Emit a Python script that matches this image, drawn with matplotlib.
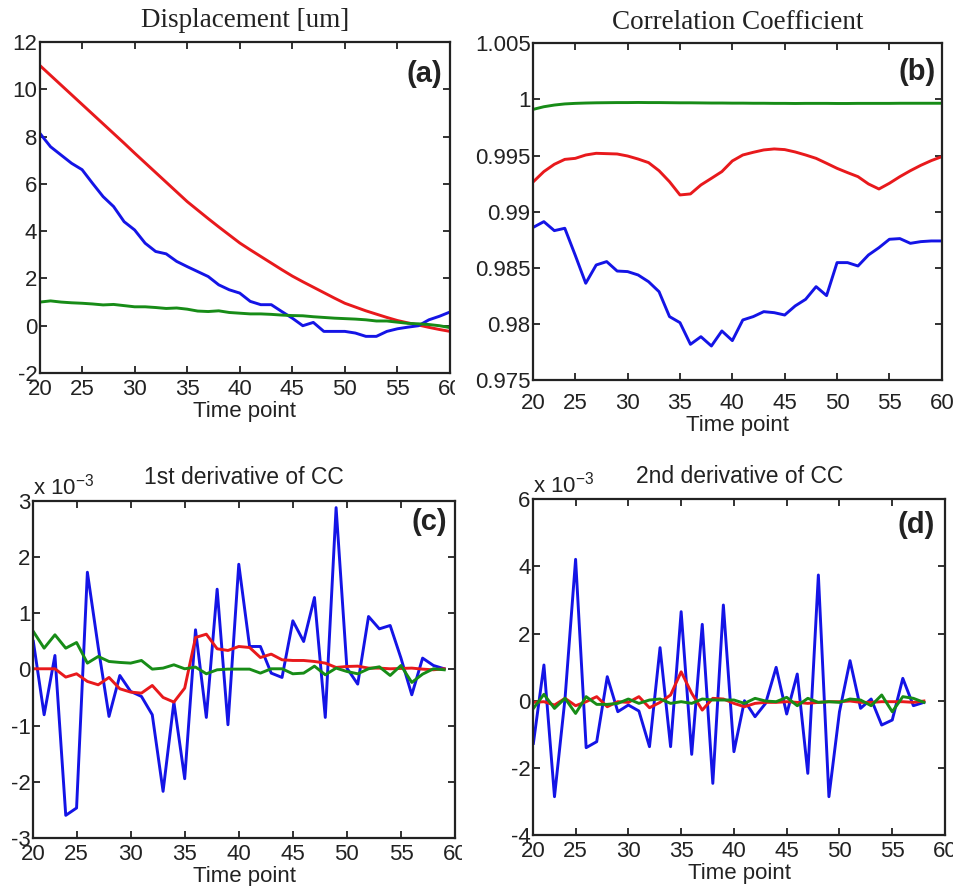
import numpy as np
import matplotlib.pyplot as plt
from matplotlib.transforms import Bbox

plt.rcParams['font.family'] = ['Liberation Sans', 'DejaVu Sans']
plt.rcParams['mathtext.fontset'] = 'custom'
plt.rcParams['mathtext.rm'] = 'Liberation Sans'

#%% Data
# time points (first point sits on the left edge, which is labelled "20")
t_disp = np.arange(21, 61)
t_d1 = np.arange(21, 60)
t_d2 = np.arange(21, 59)
xtick_pos = [21, 25, 30, 35, 40, 45, 50, 55, 60]
xtick_lab = ['20', '25', '30', '35', '40', '45', '50', '55', '60']

# (a) displacement [um]
disp_red = [11.0, 10.59, 10.18, 9.77, 9.36, 8.95, 8.54, 8.13, 7.72, 7.3,
            6.89, 6.48, 6.07, 5.66, 5.25, 4.89, 4.53, 4.18, 3.84, 3.5,
            3.21, 2.93, 2.65, 2.37, 2.1, 1.86, 1.63, 1.4, 1.17, 0.95,
            0.79, 0.63, 0.49, 0.35, 0.22, 0.12, 0.03, -0.07, -0.16, -0.24]
disp_blue = [8.13, 7.57, 7.22, 6.87, 6.6, 6.02, 5.46, 5.04, 4.4, 4.05,
             3.49, 3.14, 3.04, 2.72, 2.5, 2.29, 2.08, 1.73, 1.52, 1.38,
             1.03, 0.89, 0.89, 0.6, 0.32, 0.0, 0.14, -0.24, -0.24, -0.24,
             -0.31, -0.45, -0.45, -0.24, -0.13, -0.06, 0.0, 0.25, 0.4, 0.58]
disp_green = [1.0, 1.05, 1.0, 0.97, 0.95, 0.92, 0.88, 0.9, 0.85, 0.8,
              0.8, 0.77, 0.73, 0.75, 0.7, 0.62, 0.6, 0.63, 0.56, 0.53,
              0.5, 0.5, 0.48, 0.45, 0.43, 0.42, 0.38, 0.35, 0.32, 0.3,
              0.28, 0.25, 0.2, 0.2, 0.15, 0.1, 0.08, 0.05, 0.0, -0.08]

# (b) correlation coefficient
cc_red = [0.99267, 0.99357, 0.99422, 0.99466, 0.99475, 0.99505, 0.99520, 0.99517, 0.99514, 0.99496,
          0.99469, 0.99437, 0.99365, 0.99267, 0.99149, 0.99158, 0.99238, 0.99297, 0.99357, 0.99452,
          0.99505, 0.99529, 0.99550, 0.99559, 0.99553, 0.99532, 0.99505, 0.99475, 0.99431, 0.99386,
          0.99348, 0.99312, 0.99247, 0.99202, 0.99253, 0.99312, 0.99365, 0.99413, 0.99455, 0.99490]
cc_blue = [0.98861, 0.98911, 0.98831, 0.98852, 0.98611, 0.98362, 0.98525, 0.98555, 0.98471, 0.98466,
           0.98436, 0.98376, 0.98287, 0.98065, 0.98011, 0.97818, 0.97886, 0.97803, 0.97937, 0.97851,
           0.98035, 0.98065, 0.98109, 0.98100, 0.98079, 0.98160, 0.98219, 0.98332, 0.98252, 0.98546,
           0.98546, 0.98516, 0.98614, 0.98679, 0.98754, 0.98760, 0.98718, 0.98733, 0.98739, 0.98739]
cc_green = [0.99912, 0.99935, 0.99950, 0.99960, 0.99965, 0.99968, 0.99970, 0.99971, 0.99972, 0.99972,
            0.99973, 0.99972, 0.99972, 0.99971, 0.99970, 0.99970, 0.99969, 0.99968, 0.99968, 0.99967,
            0.99967, 0.99966, 0.99966, 0.99965, 0.99965, 0.99964, 0.99965, 0.99965, 0.99965, 0.99964,
            0.99964, 0.99965, 0.99965, 0.99965, 0.99965, 0.99966, 0.99966, 0.99966, 0.99966, 0.99966]

# (c) 1st derivative of CC, in units of 1e-3
d1_blue = [0.5, -0.806, 0.249, -2.597, -2.466, 1.731, 0.4, -0.836, -0.107, -0.391,
           -0.48, -0.806, -2.17, -0.581, -1.945, 0.706, -0.854, 1.429, -0.984, 1.873,
           0.409, 0.409, -0.065, -0.142, 0.866, 0.498, 1.281, -0.854, 2.881, 0.024,
           -0.261, 0.943, 0.723, 0.783, 0.202, -0.451, 0.202, 0.071, 0.012]
d1_red = [0.012, 0.012, 0.012, -0.136, -0.077, -0.213, -0.273, -0.142, -0.344, -0.403,
          -0.421, -0.285, -0.498, -0.581, -0.332, 0.569, 0.628, 0.368, 0.338, 0.409,
          0.391, 0.213, 0.273, 0.172, 0.16, 0.16, 0.142, 0.113, 0.036, 0.053,
          0.059, 0.024, 0.024, 0.012, 0.018, 0.024, 0.006, -0.006, 0.012]
d1_green = [0.676, 0.379, 0.617, 0.379, 0.48, 0.113, 0.231, 0.142, 0.125, 0.113,
            0.16, 0.006, 0.024, 0.083, 0.012, 0.042, -0.077, -0.006, 0.006, 0.006,
            0.006, -0.065, 0.012, 0.012, -0.077, -0.065, 0.059, -0.095, 0.024, -0.036,
            -0.077, 0.012, 0.047, -0.107, 0.071, -0.231, -0.083, 0.012, -0.006]

# (d) 2nd derivative of CC, in units of 1e-3
d2_blue = [-1.271, 1.063, -2.86, 0.07, 4.211, -1.4, -1.221, 0.715, -0.328, -0.129,
           -0.308, -1.37, 1.579, -1.37, 2.651, -1.599, 2.274, -2.463, 2.85, -1.519,
           0.0, -0.477, -0.079, 0.993, -0.397, 0.794, -2.165, 3.744, -2.86, -0.33,
           1.192, -0.228, 0.05, -0.725, -0.576, 0.665, -0.149, -0.05]
d2_red = [-0.05, -0.03, -0.13, 0.07, -0.15, -0.03, 0.12, -0.18, -0.03, -0.05,
          0.12, -0.21, -0.05, 0.17, 0.86, 0.22, -0.28, 0.07, 0.05, -0.08,
          -0.18, -0.08, -0.05, -0.05, -0.03, -0.05, -0.08, -0.05, -0.03, -0.03,
          -0.01, -0.05, -0.05, -0.03, -0.03, -0.03, -0.05, -0.01]
d2_green = [-0.23, 0.19, -0.23, 0.07, -0.38, 0.12, -0.11, -0.11, -0.08, 0.05,
            -0.08, 0.02, 0.05, -0.08, -0.03, -0.08, 0.05, 0.02, 0.02, 0.02,
            -0.08, 0.07, -0.01, -0.03, 0.1, -0.15, 0.07, -0.05, -0.03, -0.05,
            0.05, 0.02, -0.15, 0.17, -0.33, 0.12, 0.07, -0.05]

BLUE = '#1414e6'
RED = '#e8191c'
GREEN = '#178c17'


#%% Axis styling (MATLAB look)
def style_axes(ax, ylim, yticks, yticklabels, letter, letter_xy, clip_right=None, xpad=4):
    ax.set_xlim(21, 60)
    ax.set_xticks(xtick_pos)
    ax.set_xticklabels(xtick_lab)
    ax.set_ylim(*ylim)
    ax.set_yticks(yticks)
    ax.set_yticklabels(yticklabels)
    ax.tick_params(direction='in', top=True, right=True, length=5, width=1.3,
                   labelsize=16, pad=2, colors='#222222')
    ax.tick_params(axis='x', pad=xpad)
    for sp in ax.spines.values():
        sp.set_linewidth(1.6)
        sp.set_color('#222222')
    ax.set_xlabel('Time point', fontsize=16, labelpad=1, color='#222222')
    ax.text(letter_xy[0], letter_xy[1], letter, transform=ax.transAxes,
            ha='right', va='center', fontsize=21, fontweight='bold', color='#222222')
    if clip_right is not None:
        # the original panels were cropped, cutting the last tick label
        for lab in ax.get_xticklabels():
            lab.set_clip_on(True)
            lab.set_clip_box(Bbox.from_extents(0, 0, clip_right, 886))


fig = plt.figure(figsize=(9.6, 8.86), dpi=100)
ax_a = fig.add_axes([0.0417, 0.579, 0.427, 0.3736])
ax_b = fig.add_axes([0.5556, 0.5711, 0.4254, 0.380])
ax_c = fig.add_axes([0.0347, 0.0542, 0.4393, 0.3804])
ax_d = fig.add_axes([0.5556, 0.0576, 0.4288, 0.3789])

lw = 2.1
# (a)
ax_a.plot(t_disp, disp_red, color=RED, lw=lw)
ax_a.plot(t_disp, disp_blue, color=BLUE, lw=lw)
ax_a.plot(t_disp, disp_green, color=GREEN, lw=lw)
style_axes(ax_a, (-2, 12), range(-2, 13, 2), [str(v) for v in range(-2, 13, 2)],
           '(a)', (0.98, 0.903), clip_right=455)
ax_a.set_title('Displacement [um]', family=['Liberation Serif', 'DejaVu Serif'],
               fontsize=19.5, pad=11, color='#222222')

# (b)
ax_b.plot(t_disp, cc_green, color=GREEN, lw=lw)
ax_b.plot(t_disp, cc_red, color=RED, lw=lw)
ax_b.plot(t_disp, cc_blue, color=BLUE, lw=lw)
cc_ticks = [0.975, 0.98, 0.985, 0.99, 0.995, 1.0, 1.005]
style_axes(ax_b, (0.975, 1.005), cc_ticks,
           ['0.975', '0.98', '0.985', '0.99', '0.995', '1', '1.005'],
           '(b)', (0.985, 0.914), xpad=9)
ax_b.set_title('Correlation Coefficient', family=['Liberation Serif', 'DejaVu Serif'],
               fontsize=19.5, pad=10, color='#222222')

# (c)
ax_c.plot(t_d1, d1_blue, color=BLUE, lw=lw)
ax_c.plot(t_d1, d1_red, color=RED, lw=lw)
ax_c.plot(t_d1, d1_green, color=GREEN, lw=lw)
style_axes(ax_c, (-3, 3), range(-3, 4), [str(v) for v in range(-3, 4)],
           '(c)', (0.981, 0.938), clip_right=462)
ax_c.set_title('1st derivative of CC', fontsize=16.5, pad=12, color='#222222')
ax_c.text(0.0, 1.005, r'x 10$^{-3}$', transform=ax_c.transAxes, ha='left', va='bottom',
          fontsize=16, color='#222222')

# (d)
ax_d.plot(t_d2, d2_blue, color=BLUE, lw=lw)
ax_d.plot(t_d2, d2_red, color=RED, lw=lw)
ax_d.plot(t_d2, d2_green, color=GREEN, lw=lw)
style_axes(ax_d, (-4, 6), range(-4, 7, 2), [str(v) for v in range(-4, 7, 2)],
           '(d)', (0.976, 0.923), clip_right=953)
ax_d.set_title('2nd derivative of CC', fontsize=16.5, pad=12, color='#222222')
ax_d.text(0.0, 1.005, r'x 10$^{-3}$', transform=ax_d.transAxes, ha='left', va='bottom',
          fontsize=16, color='#222222')

fig.savefig('out.png', dpi=100)
